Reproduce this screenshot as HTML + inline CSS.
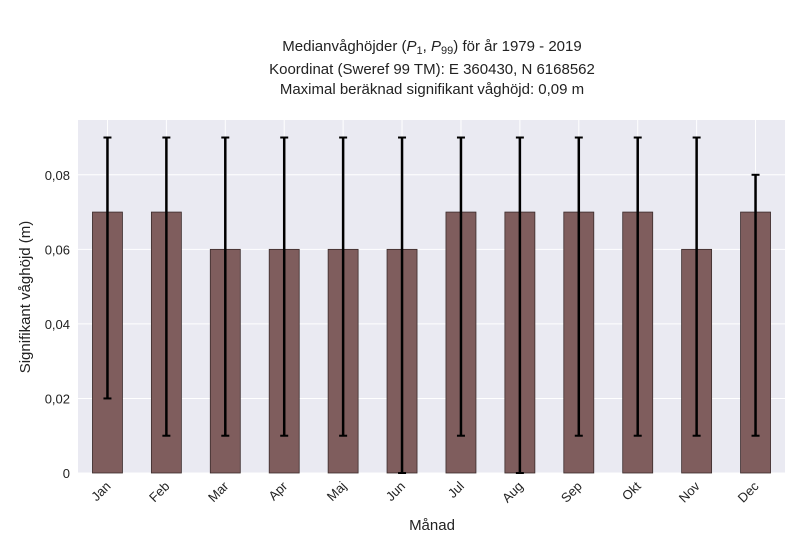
<!DOCTYPE html>
<html><head><meta charset="utf-8"><style>
body{margin:0;background:#fff;}
svg{display:block;font-family:"Liberation Sans",sans-serif;}
</style></head><body>
<svg id="chart" width="800" height="550" xmlns="http://www.w3.org/2000/svg">
<g font-size="15" fill="#222" text-anchor="middle">
<text x="432" y="51">Medianvåghöjder (<tspan font-style="italic">P</tspan><tspan font-size="11" dy="3">1</tspan><tspan dy="-3">, </tspan><tspan font-style="italic">P</tspan><tspan font-size="11" dy="3">99</tspan><tspan dy="-3">) för år 1979 - 2019</tspan></text>
<text x="432" y="74">Koordinat (Sweref 99 TM): E 360430, N 6168562</text>
<text x="432" y="94">Maximal beräknad signifikant våghöjd: 0,09 m</text>
</g>
<rect x="78" y="120" width="707" height="353" fill="#eaeaf2"/>
<g id="grid"></g>
<g id="bars"></g>
<g id="ticks"></g>
<text x="432" y="530" font-size="15" fill="#222" text-anchor="middle">Månad</text>
<text transform="translate(30,297) rotate(-90)" font-size="15" fill="#222" text-anchor="middle">Signifikant våghöjd (m)</text>
</svg>
<script>
const categories=["Jan","Feb","Mar","Apr","Maj","Jun","Jul","Aug","Sep","Okt","Nov","Dec"];
const medians=[0.07,0.07,0.06,0.06,0.06,0.06,0.07,0.07,0.07,0.07,0.06,0.07];
const p1=[0.02,0.01,0.01,0.01,0.01,0,0.01,0,0.01,0.01,0.01,0.01];
const p99=[0.09,0.09,0.09,0.09,0.09,0.09,0.09,0.09,0.09,0.09,0.09,0.08];
const yTicks=[0,0.02,0.04,0.06,0.08];
const yTickLabels=["0","0,02","0,04","0,06","0,08"];
const NS="http://www.w3.org/2000/svg";
const x0=78,x1=785,y0=473,yTop=120,ymax=0.0947;
const step=(x1-x0)/categories.length;
const xs=i=>x0+step*(i+0.5);
const ys=v=>y0-(v/ymax)*(y0-yTop);
function mk(tag,attrs,parent){const e=document.createElementNS(NS,tag);for(const k in attrs)e.setAttribute(k,attrs[k]);parent.appendChild(e);return e;}
const grid=document.getElementById('grid'),bars=document.getElementById('bars'),ticks=document.getElementById('ticks');
yTicks.forEach((t,i)=>{
 const l=mk('line',{x1:x0,x2:x1,y1:ys(t),y2:ys(t),stroke:'#fff','stroke-width':1},grid);
 
 
 const tx=mk('text',{x:x0-8,y:ys(t)+5,'font-size':13,fill:'#222','text-anchor':'end'},ticks);
 tx.textContent=yTickLabels[i];
 
 
});
categories.forEach((c,i)=>{
 const cx=xs(i);
 const g=mk('line',{x1:cx,x2:cx,y1:yTop,y2:y0,stroke:'#fff','stroke-width':1},grid);
 
 
 const b=mk('rect',{x:cx-15,y:ys(medians[i]),width:30,height:y0-ys(medians[i]),fill:'#7f5d5d',stroke:'#3a2a2a','stroke-width':0.8},bars);
 
 
 const e=mk('line',{x1:cx,x2:cx,y1:ys(p99[i]),y2:ys(p1[i]),stroke:'#000','stroke-width':2.5},bars);
 
 
 [p1[i],p99[i]].forEach(v=>{
  const cap=mk('line',{x1:cx-4,x2:cx+4,y1:ys(v),y2:ys(v),stroke:'#000','stroke-width':2},bars);
  
  
 });
 const t=mk('text',{x:cx+4,y:y0+14,'font-size':13,fill:'#222','text-anchor':'end',transform:`rotate(-45 ${cx+4} ${y0+14})`},ticks);
 t.textContent=c;
 
 
});
</script>
</body></html>
